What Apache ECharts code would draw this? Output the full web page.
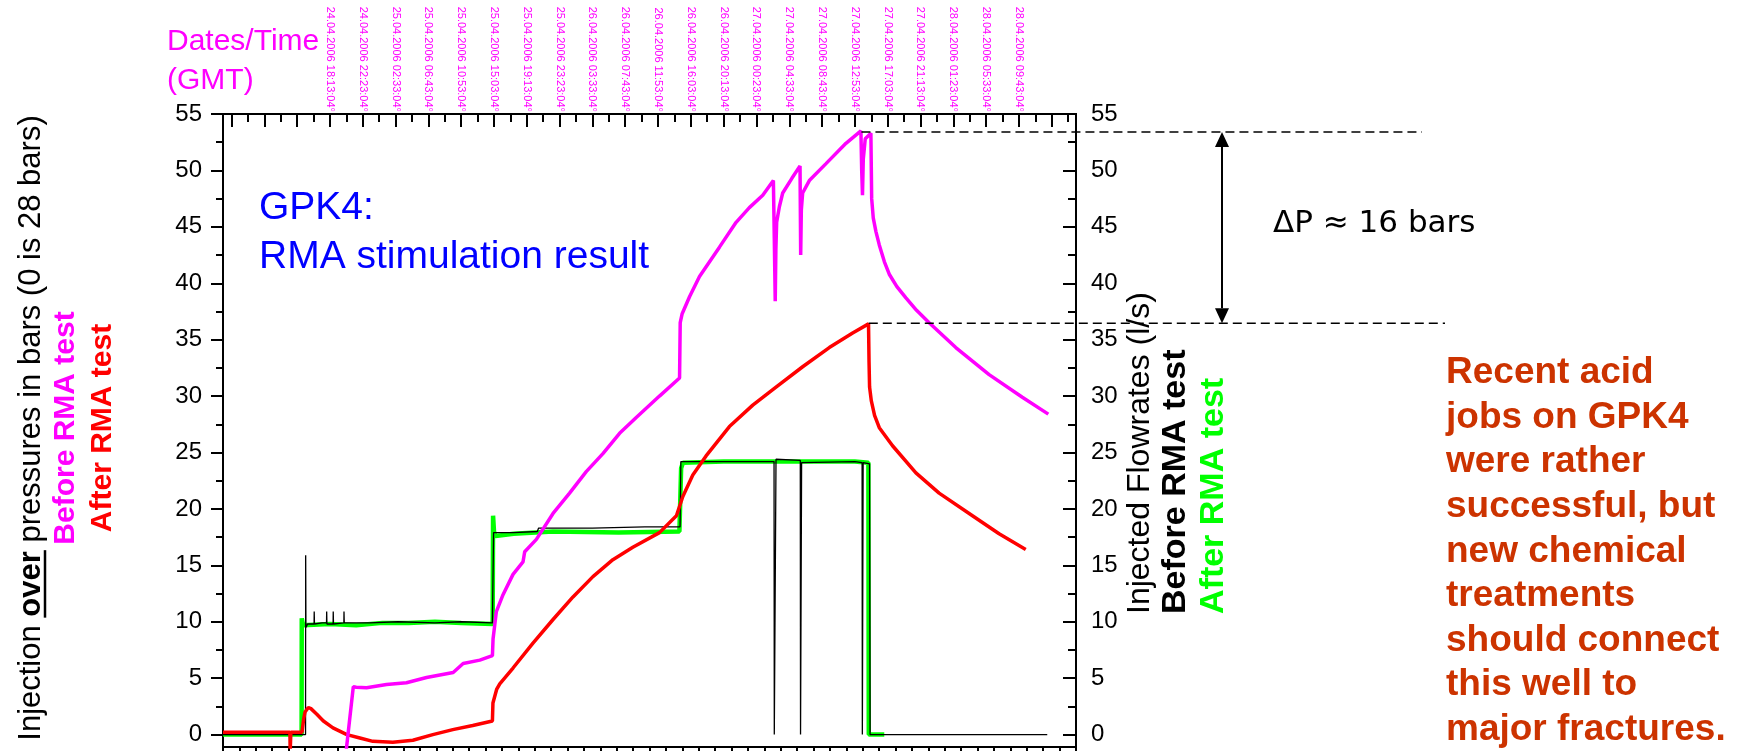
<!DOCTYPE html>
<html><head><meta charset="utf-8">
<script src="https://cdn.jsdelivr.net/npm/echarts@6/dist/echarts.min.js"></script>
<style>html,body{margin:0;padding:0;background:#fff;} #c{width:1738px;height:751px;}</style>
</head><body><div id="c"></div>
<script>
// x values: minutes relative to 24.04.2006 18:13:04 GMT
const X_MIN = -815, X_MAX = 5685;
const Y_MIN = -1.1, Y_MAX = 55;

const dateLabels = ["24.04.2006 18:13:04°","24.04.2006 22:23:04°","25.04.2006 02:33:04°","25.04.2006 06:43:04°","25.04.2006 10:53:04°","25.04.2006 15:03:04°","25.04.2006 19:13:04°","25.04.2006 23:23:04°","26.04.2006 03:33:04°","26.04.2006 07:43:04°","26.04.2006 11:53:04°","26.04.2006 16:03:04°","26.04.2006 20:13:04°","27.04.2006 00:23:04°","27.04.2006 04:33:04°","27.04.2006 08:43:04°","27.04.2006 12:53:04°","27.04.2006 17:03:04°","27.04.2006 21:13:04°","28.04.2006 01:23:04°","28.04.2006 05:33:04°","28.04.2006 09:43:04°"];
const dateLabelMinutes = [0,250,500,750,1000,1250,1500,1750,2000,2250,2500,2750,3000,3250,3500,3750,4000,4250,4500,4750,5000,5250];
const topMajorTicks = [-750,-500,-250].concat(dateLabelMinutes, [5500]);
const topMinorTicks = topMajorTicks.map(v => v + 125);
const bottomTicks = []; for (let v = X_MIN; v <= X_MAX; v += 125) bottomTicks.push(v);
const yTickValues = [0,5,10,15,20,25,30,35,40,45,50,55];
const yMinorTicks = [2.5,7.5,12.5,17.5,22.5,27.5,32.5,37.5,42.5,47.5,52.5];

// Injected flowrate before RMA test (black), l/s
const flowBefore = [[-815,0],[-186,0],[-185,15.9],[-183,9.5],[-170,9.8],[-121,9.8],[-120,10.9],[-118,9.8],[-60,9.9],[-26,9.9],[-25,10.9],[-23,9.8],[24,9.8],[25,10.9],[27,9.8],[106,9.9],[107,10.9],[109,9.9],[300,9.9],[520,10.0],[800,9.9],[1000,10.0],[1238,9.9],[1246,9.9],[1247,17.9],[1400,17.9],[1580,18.0],[1590,18.3],[2000,18.3],[2400,18.4],[2668,18.4],[2674,24.2],[3000,24.2],[3384,24.2],[3386,0],[3397,0],[3399,24.4],[3584,24.3],[3586,0],[3592,0],[3594,24.1],[4000,24.2],[4055,24.1],[4057,0],[4061,0],[4063,24.1],[4112,24.0],[4116,0],[5466,0]];
// Injected flowrate after RMA test (green), l/s
const flowAfter = [[-815,0],[-216,0],[-215,10.3],[-205,9.7],[0,9.8],[200,9.7],[400,9.9],[600,9.9],[800,10.0],[1000,9.9],[1240,9.8],[1243,19.4],[1250,18.0],[1262,17.6],[1400,17.8],[1700,18.0],[2200,17.9],[2663,18.0],[2676,23.6],[2690,24.1],[3000,24.2],[3500,24.2],[4000,24.2],[4103,24.1],[4106,0],[4224,0]];
// Injection over-pressure before RMA test (magenta), bars
const pressBefore = [[122,-1.6],[178,4.25],[200,4.2],[279,4.15],[431,4.43],[583,4.6],[736,5.06],[939,5.5],[1015,6.3],[1142,6.6],[1238,7.0],[1243,8.5],[1268,10.9],[1319,12.4],[1395,14.2],[1471,15.3],[1484,16.2],[1573,17.3],[1700,19.6],[1826,21.4],[1953,23.3],[2080,24.9],[2207,26.7],[2334,28.1],[2511,30.0],[2664,31.6],[2669,36.5],[2684,37.3],[2740,38.8],[2816,40.6],[2968,43.2],[3095,45.4],[3196,46.7],[3298,47.8],[3379,49.1],[3386,44.0],[3393,38.4],[3398,43.0],[3404,45.4],[3425,46.8],[3450,48.0],[3520,49.3],[3582,50.4],[3587,42.5],[3592,46.5],[3602,48.0],[3653,49.1],[3780,50.6],[3932,52.4],[4046,53.5],[4052,50.0],[4058,47.8],[4064,51.0],[4079,52.8],[4122,53.3],[4128,47.5],[4140,45.8],[4160,44.6],[4186,43.4],[4225,41.9],[4262,40.8],[4320,39.7],[4389,38.7],[4470,37.6],[4566,36.5],[4769,34.3],[5023,31.9],[5276,29.9],[5474,28.4]];
// Injection over-pressure after RMA test (red), bars
const pressAfter = [[-815,0.2],[-305,0.2],[-303,-1.5],[-300,-1.5],[-298,0.2],[-213,0.2],[-200,1.4],[-190,2.0],[-165,2.4],[-145,2.3],[-100,1.8],[-50,1.2],[23,0.6],[129,0.0],[228,-0.3],[327,-0.6],[479,-0.68],[632,-0.5],[784,0.0],[936,0.44],[1088,0.8],[1238,1.2],[1242,2.8],[1270,4.0],[1294,4.5],[1395,5.9],[1547,8.1],[1700,10.2],[1852,12.2],[2004,14.0],[2156,15.5],[2308,16.6],[2511,17.9],[2640,19.4],[2689,21.1],[2765,23.0],[2866,24.7],[3044,27.3],[3222,29.2],[3399,30.8],[3602,32.6],[3805,34.3],[3983,35.6],[4104,36.4],[4108,33.0],[4112,30.8],[4125,29.6],[4150,28.3],[4186,27.2],[4287,25.6],[4465,23.2],[4642,21.4],[4896,19.4],[5099,17.8],[5302,16.4]];

// Delta-P annotation levels (bars) and their start times
const deltaTop = [4050, 53.4];
const deltaBottom = [4106, 36.45];

const FONT = 'Liberation Sans';
const chart = echarts.init(document.getElementById('c'), null, {renderer: 'canvas'});

function xAx(pos, ticks, len, inside, extra) {
  return Object.assign({
    type: 'value', position: pos, min: X_MIN, max: X_MAX,
    axisLine: {show: true, onZero: false, lineStyle: {color: '#000', width: 2}},
    axisTick: {show: true, inside: inside, length: len, customValues: ticks, lineStyle: {color: '#000', width: 2}},
    axisLabel: {show: false}, splitLine: {show: false}
  }, extra || {});
}
function yAx(pos, ticks, len, inside, extra) {
  return Object.assign({
    type: 'value', position: pos, min: Y_MIN, max: Y_MAX,
    axisLine: {show: true, onZero: false, lineStyle: {color: '#000', width: 2}},
    axisTick: {show: true, inside: inside, length: len, customValues: ticks, lineStyle: {color: '#000', width: 2}},
    axisLabel: {show: false}, splitLine: {show: false}
  }, extra || {});
}

const option = {
  animation: false,
  backgroundColor: '#fff',
  textStyle: {fontFamily: FONT},
  grid: {left: 223, top: 114, width: 853, height: 633, containLabel: false},
  xAxis: [
    xAx('bottom', bottomTicks, 8, false),
    xAx('top', topMajorTicks, 13, true, {
      axisLabel: {show: true, rotate: 90, margin: 2, customValues: dateLabelMinutes,
        color: '#FF00FF', fontSize: 11, fontFamily: FONT,
        formatter: v => { const i = dateLabelMinutes.indexOf(Math.round(v)); return i >= 0 ? dateLabels[i] : ''; }}
    }),
    xAx('top', topMinorTicks, 8, true)
  ],
  yAxis: [
    yAx('left', yTickValues, 12, false, {
      axisLabel: {show: true, customValues: yTickValues, margin: 21, color: '#000', fontSize: 24, fontFamily: FONT}
    }),
    yAx('left', yMinorTicks, 7, false),
    yAx('right', yTickValues, 13, true, {
      axisLabel: {show: true, customValues: yTickValues, margin: 15, color: '#000', fontSize: 24, fontFamily: FONT}
    }),
    yAx('right', yMinorTicks, 8, true)
  ],
  series: [
    {name: 'Flow after RMA', type: 'line', data: flowAfter, yAxisIndex: 2, showSymbol: false, symbol: 'none',
     lineStyle: {color: '#00FF00', width: 4.5}, z: 2},
    {name: 'Flow before RMA', type: 'line', data: flowBefore, yAxisIndex: 2, showSymbol: false, symbol: 'none',
     lineStyle: {color: '#000000', width: 1.3}, z: 3},
    {name: 'Pressure after RMA', type: 'line', data: pressAfter, yAxisIndex: 0, showSymbol: false, symbol: 'none',
     lineStyle: {color: '#FF0000', width: 3.5}, z: 4},
    {name: 'Pressure before RMA', type: 'line', data: pressBefore, yAxisIndex: 0, showSymbol: false, symbol: 'none',
     lineStyle: {color: '#FF00FF', width: 3.5}, z: 5}
  ]
};
chart.setOption(option);

// ---------- annotations ----------
const P = (pt) => chart.convertToPixel({xAxisIndex: 0, yAxisIndex: 0}, pt);
const mctx = document.createElement('canvas').getContext('2d');
const tw = (font, s) => { mctx.font = font; return mctx.measureText(s).width; };

const g = [];
function txt(x, y, text, font, color, align, valign, rot) {
  g.push({type: 'text', x: x, y: y, rotation: rot || 0, z: 100,
    style: {text: text, font: font, fill: color, align: align || 'left', verticalAlign: valign || 'middle'}});
}

// Top-left "Dates/Time (GMT)"
txt(167, 42, 'Dates/Time', '30px "' + FONT + '"', '#FF00FF');
txt(167, 81, '(GMT)', '30px "' + FONT + '"', '#FF00FF');

// GPK4 title
txt(259, 208, 'GPK4:', '39px "' + FONT + '"', '#0000FF');
txt(259, 257, 'RMA stimulation result', '39px "' + FONT + '"', '#0000FF');

// Left axis title (rotated), with bold underlined "over"
const fN = '31px "' + FONT + '"', fB = 'bold 31px "' + FONT + '"';
const segs = [['Injection ', fN], ['over', fB], [' pressures in bars (0 is 28 bars)', fN]];
const totalL = segs.reduce((s, a) => s + tw(a[1], a[0]), 0);
let yCur = 428 + totalL / 2;
const R = Math.PI / 2;
segs.forEach((sg, i) => {
  const w = tw(sg[1], sg[0]);
  txt(31, yCur, sg[0], sg[1], '#000', 'left', 'middle', R);
  if (i === 1) g.push({type: 'line', z: 100, shape: {x1: 45, y1: yCur + 1, x2: 45, y2: yCur - w - 1}, style: {stroke: '#000', lineWidth: 2.5}});
  yCur -= w;
});
txt(66, 428, 'Before RMA test', 'bold 30px "' + FONT + '"', '#FF00FF', 'center', 'middle', R);
txt(103, 428, 'After RMA test', 'bold 30px "' + FONT + '"', '#FF0000', 'center', 'middle', R);

// Right axis title (rotated)
txt(1140, 614, 'Injected Flowrates (l/s)', '32px "' + FONT + '"', '#000', 'left', 'middle', R);
txt(1176, 614, 'Before RMA test', 'bold 34px "' + FONT + '"', '#000', 'left', 'middle', R);
txt(1214, 614, 'After RMA test', 'bold 34px "' + FONT + '"', '#00FF00', 'left', 'middle', R);

// Delta-P dashed lines and arrow
const pTop = P(deltaTop), pBot = P(deltaBottom);
g.push({type: 'line', z: 90, shape: {x1: pTop[0], y1: pTop[1], x2: 1422, y2: pTop[1]}, style: {stroke: '#000', lineWidth: 1.6, lineDash: [9, 5]}});
g.push({type: 'line', z: 90, shape: {x1: pBot[0], y1: pBot[1], x2: 1445, y2: pBot[1]}, style: {stroke: '#000', lineWidth: 1.6, lineDash: [9, 5]}});
const ax = 1222, ah = 15, aw = 7;
g.push({type: 'line', z: 90, shape: {x1: ax, y1: pTop[1] + ah, x2: ax, y2: pBot[1] - ah}, style: {stroke: '#000', lineWidth: 2}});
g.push({type: 'polygon', z: 90, shape: {points: [[ax, pTop[1]], [ax - aw, pTop[1] + ah], [ax + aw, pTop[1] + ah]]}, style: {fill: '#000'}});
g.push({type: 'polygon', z: 90, shape: {points: [[ax, pBot[1]], [ax - aw, pBot[1] - ah], [ax + aw, pBot[1] - ah]]}, style: {fill: '#000'}});
txt(1273, 224, 'ΔP ≈ 16 bars', '31px "DejaVu Sans"', '#000');

// Red comment block
const note = ['Recent acid', 'jobs on GPK4', 'were rather', 'successful, but', 'new chemical', 'treatments', 'should connect', 'this well to', 'major fractures.'];
note.forEach((ln, i) => txt(1446, 373 + i * 44.6, ln, 'bold 37px "' + FONT + '"', '#CC3300'));

chart.setOption({graphic: {elements: g}});
</script>
</body></html>
